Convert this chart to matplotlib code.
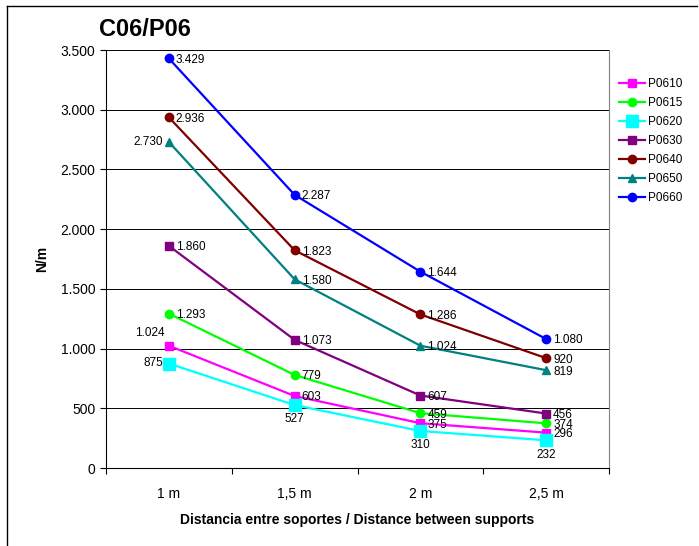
import numpy as np
import matplotlib.pyplot as plt
from matplotlib.ticker import FuncFormatter

plt.rcParams['font.family'] = ['Liberation Sans', 'DejaVu Sans']

# Datos
categorias = ['1 m', '1,5 m', '2 m', '2,5 m']
series = ['P0610', 'P0615', 'P0620', 'P0630', 'P0640', 'P0650', 'P0660']
p0610 = [1024, 603, 375, 296]
p0615 = [1293, 779, 459, 374]
p0620 = [875, 527, 310, 232]
p0630 = [1860, 1073, 607, 456]
p0640 = [2936, 1823, 1286, 920]
p0650 = [2730, 1580, 1024, 819]
p0660 = [3429, 2287, 1644, 1080]
valores = [p0610, p0615, p0620, p0630, p0640, p0650, p0660]

colores = ['#FF00FF', '#00FF00', '#00FFFF', '#800080', '#800000', '#008080', '#0000FF']
marcadores = ['s', 'o', 's', 's', 'o', '^', 'o']
tamanos = [6, 6, 9, 6, 6, 6, 6]

# posición de etiquetas: 'r' derecha, 'l' izquierda, 'a' arriba-izq, 'b' abajo
posiciones = [
    ['a', 'r', 'r', 'r'],
    ['r', 'r', 'r', 'r'],
    ['l', 'b', 'b', 'b'],
    ['r', 'r', 'r', 'r'],
    ['r', 'r', 'r', 'r'],
    ['l', 'r', 'r', 'r'],
    ['r', 'r', 'r', 'r'],
]


def miles(v):
    return f'{int(v):,}'.replace(',', '.')


fig = plt.figure(figsize=(6.99, 5.46), dpi=100)
ax = fig.add_axes([106 / 699, 78 / 546, 503 / 699, 418 / 546])

x = np.arange(len(categorias))
for nombre, y, c, m, ms, pos in zip(series, valores, colores, marcadores, tamanos, posiciones):
    ax.plot(x, y, color=c, marker=m, markersize=ms, linewidth=1.6, label=nombre, zorder=3)
    for xi, yi, p in zip(x, y, pos):
        if p == 'r':
            ax.annotate(miles(yi), (xi, yi), xytext=(5, -1), textcoords='offset points',
                        ha='left', va='center', fontsize=8.5)
        elif p == 'l':
            ax.annotate(miles(yi), (xi, yi), xytext=(-4, 0), textcoords='offset points',
                        ha='right', va='center', fontsize=8.5)
        elif p == 'a':
            ax.annotate(miles(yi), (xi, yi), xytext=(-14, 5), textcoords='offset points',
                        ha='center', va='bottom', fontsize=8.5)
        else:
            ax.annotate(miles(yi), (xi, yi), xytext=(0, -6), textcoords='offset points',
                        ha='center', va='top', fontsize=8.5)

ax.set_xlim(-0.5, 3.5)
ax.set_ylim(0, 3500)
ax.set_yticks(np.arange(0, 3501, 500))
ax.yaxis.set_major_formatter(FuncFormatter(lambda v, p: miles(v)))
ax.set_xticks(np.arange(-0.5, 3.6, 1))
ax.set_xticklabels([])
ax.set_xticks(x, minor=True)
ax.set_xticklabels(categorias, minor=True)
ax.tick_params(axis='x', which='minor', length=0, pad=14, labelsize=10)
ax.tick_params(axis='x', which='major', length=4, direction='out')
ax.tick_params(axis='y', length=4, direction='out', labelsize=10)
ax.grid(axis='y', color='black', linewidth=0.7)
ax.set_axisbelow(True)
ax.spines['top'].set_visible(False)
ax.spines['right'].set_color('#808080')

ax.set_xlabel('Distancia entre soportes / Distance between supports', fontsize=10,
              fontweight='bold', labelpad=8)
ax.set_ylabel('N/m', fontsize=10, fontweight='bold', labelpad=8)

fig.text(99 / 699, 1 - 30 / 546, 'C06/P06', fontsize=17, fontweight='bold',
         ha='left', va='center')

ax.legend(loc='upper left', bbox_to_anchor=(1.01, 0.945), frameon=False, fontsize=8.5,
          handlelength=2.2, labelspacing=0.6, handletextpad=0.3, borderaxespad=0)

# marco del gráfico
fig.add_artist(plt.Line2D([7 / 699, 7 / 699], [0, 1 - 6 / 546], color='black', lw=1))
fig.add_artist(plt.Line2D([7 / 699, 697 / 699], [1 - 6 / 546, 1 - 6 / 546], color='black', lw=1))

fig.savefig('out.png', dpi=100)
